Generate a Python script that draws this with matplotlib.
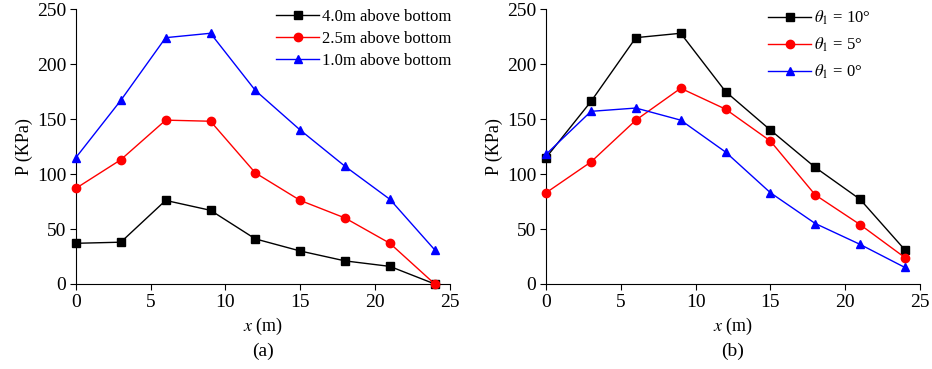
import matplotlib
matplotlib.use("Agg")
from matplotlib import pyplot as plt

plt.rcParams['font.family'] = ['Liberation Serif', 'DejaVu Serif']
plt.rcParams['mathtext.fontset'] = 'stix'

x = [0, 3, 6, 9, 12, 15, 18, 21, 24]

# (a) pressure at different heights above the bottom
a_labels = ["4.0m above bottom", "2.5m above bottom", "1.0m above bottom"]
a_40 = [37, 38, 76, 67, 41, 30, 21, 16, 0]
a_25 = [87, 113, 149, 148, 101, 76, 60, 37, 0]
a_10 = [115, 167, 224, 228, 176, 140, 107, 77, 31]

# (b) pressure at different angles
b_labels = [r"$\theta_1$ = 10°", r"$\theta_1$ = 5°", r"$\theta_1$ = 0°"]
b_10 = [115, 166, 224, 228, 175, 140, 106, 77, 31]
b_5 = [83, 111, 149, 178, 159, 130, 81, 54, 24]
b_0 = [118, 157, 160, 149, 120, 83, 55, 36, 15]

colors = ["black", "red", "blue"]
markers = ["s", "o", "^"]

fig = plt.figure(figsize=(9.32, 3.69), dpi=100)
ax1 = fig.add_axes([0.0815, 0.2304, 0.401, 0.745])
ax2 = fig.add_axes([0.586, 0.2304, 0.401, 0.745])

def draw(ax, series, labels, caption, leg_x, spacing):
    for ys, lab, c, m in zip(series, labels, colors, markers):
        ax.plot(x, ys, color=c, marker=m, markersize=6, linewidth=1,
                label=lab, clip_on=False, zorder=3)
    ax.set_xlim(0, 25)
    ax.set_ylim(0, 250)
    ax.set_xticks([0, 5, 10, 15, 20, 25])
    ax.set_yticks([0, 50, 100, 150, 200, 250])
    for s in ["top", "right"]:
        ax.spines[s].set_visible(False)
    ax.tick_params(direction="out", length=4, labelsize=14, pad=3)
    ax.set_ylabel("P (KPa)", fontsize=13, labelpad=3)
    ax.set_xlabel(r"$\mathit{x}$ (m)", fontsize=13, labelpad=4)
    ax.text(0.5, -0.215, caption, transform=ax.transAxes, ha="center",
            va="top", fontsize=14)
    ax.legend(loc="upper left", frameon=False, fontsize=12,
              handlelength=2.6, handletextpad=0.15, labelspacing=spacing,
              borderaxespad=0.0, borderpad=0.0,
              bbox_to_anchor=(leg_x, 1.0))

draw(ax1, [a_40, a_25, a_10], a_labels, "(a)", 0.535, 0.35)
draw(ax2, [b_10, b_5, b_0], b_labels, "(b)", 0.594, 0.5)

fig.savefig("out.png", dpi=100)
